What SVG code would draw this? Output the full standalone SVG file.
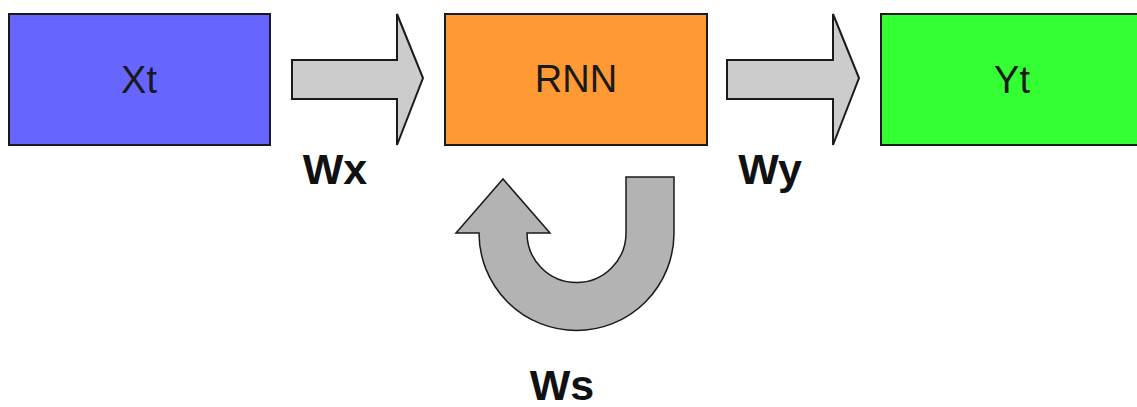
<svg xmlns="http://www.w3.org/2000/svg" width="1137" height="407" viewBox="0 0 1137 407">
<style>
.box{stroke:#1a1a1a;stroke-width:2}
.lbl{font-family:"Liberation Sans",Arial,sans-serif;font-size:38px;fill:#1a1a1a;text-anchor:middle}
.wl{font-family:"Liberation Sans",Arial,sans-serif;font-size:43px;font-weight:bold;fill:#111;text-anchor:middle}
.arr{fill:#cccccc;stroke:#1a1a1a;stroke-width:2;stroke-linejoin:miter}
.uarr{fill:#b3b3b3;stroke:#1a1a1a;stroke-width:1.5}
</style>
<rect width="1137" height="407" fill="#ffffff"/>
<g id="node-xt">
<rect class="box" x="9" y="14" width="261" height="131" fill="#6666ff"/>
<text class="lbl" x="139" y="93">Xt</text>
</g>
<g id="node-rnn">
<rect class="box" x="445" y="14" width="262" height="131" fill="#ff9933"/>
<text class="lbl" x="576" y="92">RNN</text>
</g>
<g id="node-yt">
<rect class="box" x="881" y="14" width="262" height="131" fill="#33ff33"/>
<text class="lbl" x="1012" y="93">Yt</text>
</g>
<g id="connectors">
<polygon class="arr" points="292,60 397,60 397,14 423,78 397,145 397,99 292,99"/>
<polygon class="arr" points="727,60 833,60 833,14 859,78 833,145 833,99 727,99"/>
<path class="uarr" d="M626,177 L674,177 L674,233 A97.5,97.5 0 0 1 479,233 L456,233 L503,179 L550,233 L527,233 A49.5,49.5 0 0 0 626,233 Z"/>
<text class="wl" x="335" y="184">Wx</text>
<text class="wl" x="770" y="184">Wy</text>
<text class="wl" x="562" y="400">Ws</text>
</g>
</svg>
